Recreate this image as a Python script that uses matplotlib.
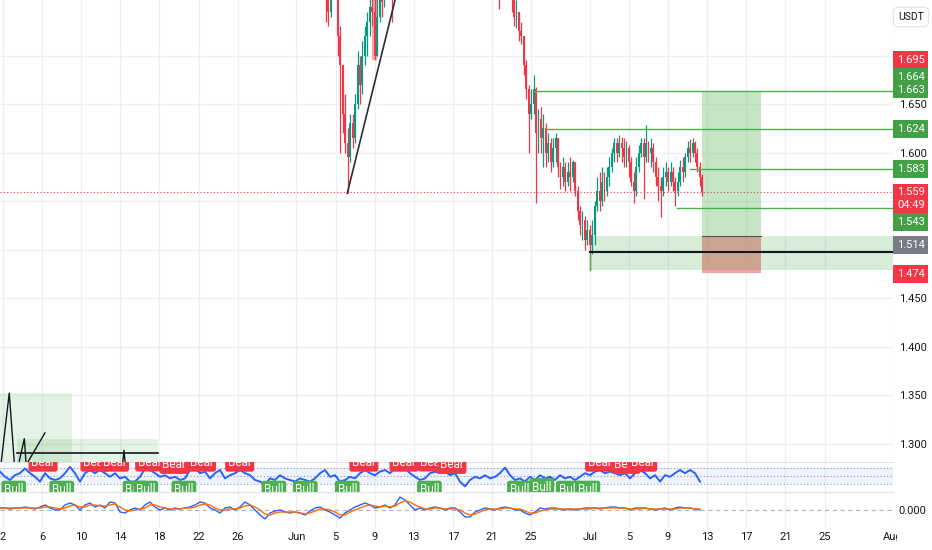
import matplotlib.pyplot as plt
import numpy as np
from matplotlib.patches import Rectangle

plt.rcParams['font.family'] = ['Roboto', 'DejaVu Sans']

UP = '#089981'
DOWN = '#f23645'
GREEN = '#4caf50'
GRID = '#eef0f4'
TXT = '#131722'

# ---------------- data ----------------
# day numbers counted from May 1 (= day 0)
tick_days = [1, 5, 9, 13, 17, 21, 25, 31, 35, 39, 43, 47, 51, 55, 61, 65, 69, 73, 77, 81, 85, 92]
tick_labels = ['2', '6', '10', '14', '18', '22', '26', 'Jun', '5', '9', '13', '17', '21', '25',
               'Jul', '5', '9', '13', '17', '21', '25', 'Aug']
price_ticks = [1.300, 1.350, 1.400, 1.450, 1.500, 1.550, 1.600, 1.650, 1.700]
price_tick_labels = ['1.300', '1.350', '1.400', '1.450', '1.500', '', '1.600', '1.650', '']

# 6h candles, block 1 (from Jun 3.75) and block 2 (from Jun 20.75)
c1_start = 33.75
c1_open0 = 1.800
c1_close = [1.790, 1.770, 1.745, 1.775, 1.790, 1.780, 1.720, 1.690, 1.640, 1.610, 1.595, 1.630,
            1.615, 1.650, 1.690, 1.670, 1.700, 1.720, 1.735, 1.750, 1.745, 1.700, 1.740, 1.760,
            1.755, 1.770, 1.780, 1.790, 1.765, 1.790, 1.810]
c1_high = [1.810, 1.790, 1.775, 1.790, 1.800, 1.800, 1.785, 1.730, 1.690, 1.660, 1.625, 1.640,
           1.640, 1.660, 1.705, 1.700, 1.715, 1.730, 1.745, 1.770, 1.770, 1.760, 1.760, 1.780,
           1.775, 1.790, 1.800, 1.810, 1.800, 1.810, 1.830]
c1_low = [1.770, 1.735, 1.730, 1.740, 1.770, 1.760, 1.700, 1.600, 1.620, 1.600, 1.558, 1.590,
          1.605, 1.610, 1.645, 1.650, 1.660, 1.690, 1.700, 1.720, 1.730, 1.695, 1.700, 1.735,
          1.740, 1.750, 1.760, 1.775, 1.735, 1.770, 1.790]

c2_start = 50.75
c2_open0 = 1.810
c2_close = [1.800, 1.790, 1.805, 1.785, 1.765, 1.780, 1.790, 1.785, 1.775, 1.760, 1.740, 1.745,
            1.725, 1.720, 1.690, 1.665, 1.640, 1.650, 1.665, 1.620, 1.635, 1.615, 1.625, 1.600,
            1.610, 1.590, 1.605, 1.615, 1.585, 1.575, 1.585, 1.570, 1.580, 1.575, 1.590, 1.560,
            1.540, 1.525, 1.530, 1.510, 1.520, 1.505, 1.515, 1.545, 1.560, 1.550, 1.570, 1.560,
            1.575, 1.585, 1.600, 1.610, 1.600, 1.610, 1.605, 1.595, 1.605, 1.590, 1.570, 1.560,
            1.585, 1.600, 1.610, 1.595, 1.610, 1.600, 1.605, 1.590, 1.575, 1.565, 1.560, 1.575,
            1.580, 1.570, 1.580, 1.570, 1.560, 1.570, 1.585, 1.580, 1.595, 1.605, 1.600, 1.610,
            1.600, 1.585, 1.575, 1.559]
c2_high = [1.815, 1.810, 1.820, 1.805, 1.790, 1.790, 1.800, 1.800, 1.790, 1.780, 1.765, 1.757,
           1.745, 1.735, 1.720, 1.695, 1.670, 1.665, 1.680, 1.668, 1.645, 1.647, 1.640, 1.630,
           1.620, 1.615, 1.615, 1.620, 1.615, 1.590, 1.595, 1.590, 1.590, 1.595, 1.592, 1.590,
           1.565, 1.545, 1.540, 1.535, 1.530, 1.525, 1.530, 1.550, 1.575, 1.580, 1.585, 1.580,
           1.585, 1.595, 1.605, 1.615, 1.615, 1.618, 1.616, 1.615, 1.612, 1.608, 1.595, 1.580,
           1.595, 1.608, 1.615, 1.615, 1.628, 1.612, 1.615, 1.610, 1.595, 1.585, 1.575, 1.585,
           1.590, 1.585, 1.590, 1.585, 1.575, 1.580, 1.592, 1.595, 1.600, 1.612, 1.614, 1.615,
           1.612, 1.605, 1.590, 1.578]
c2_low = [1.785, 1.775, 1.785, 1.770, 1.748, 1.760, 1.775, 1.770, 1.760, 1.745, 1.730, 1.728,
          1.715, 1.712, 1.680, 1.655, 1.600, 1.635, 1.640, 1.548, 1.600, 1.600, 1.585, 1.585,
          1.590, 1.580, 1.585, 1.590, 1.575, 1.562, 1.565, 1.560, 1.565, 1.560, 1.570, 1.555,
          1.530, 1.515, 1.510, 1.500, 1.505, 1.479, 1.495, 1.505, 1.540, 1.540, 1.545, 1.550,
          1.555, 1.565, 1.580, 1.590, 1.590, 1.595, 1.590, 1.585, 1.585, 1.575, 1.565, 1.548,
          1.555, 1.580, 1.595, 1.552, 1.590, 1.590, 1.585, 1.580, 1.565, 1.550, 1.534, 1.555,
          1.565, 1.560, 1.565, 1.560, 1.545, 1.555, 1.565, 1.570, 1.575, 1.590, 1.590, 1.595,
          1.590, 1.580, 1.565, 1.555]

# RSI and MACD, sampled every half day from May 1.7 to Jul 12.3
ind_first_day = 0.69
ind_last_day = 72.27
rsi_a = [61, 48, 40, 52, 57, 69, 57, 48, 36, 57, 44, 40, 44, 57, 73, 57, 36, 57, 65, 57,
         65, 57, 48, 57, 44, 48, 36, 36, 48, 69, 65, 57, 48, 52, 44, 48, 40, 44, 65, 69,
         57, 61, 44, 57, 65, 44, 52, 57, 65, 57, 52, 40, 36, 28, 44, 40, 52, 44, 40, 36,
         44, 40, 36, 44, 57, 65, 48, 52, 36, 40]
rsi_b = [48, 44, 57, 65, 57, 52, 61, 65, 57, 69, 65, 69, 57, 48, 40, 44, 57, 61, 57, 61,
         52, 57, 36, 24, 40, 48, 44, 52, 44, 48, 57, 71, 52, 40, 44, 36, 48, 40, 52, 44,
         48, 40, 52, 44, 48, 40, 48, 57, 52, 61, 65, 57, 61, 57, 52, 57, 44, 57, 65, 57,
         44, 52, 36, 52, 48, 57, 65, 57, 65, 57, 36]
macd_a = [0.002, 0.002, 0.001, 0.002, 0.002, 0.003, 0.002, 0.001, 0.003, 0.005,
          0.002, 0.000, 0.000, 0.005, 0.007, 0.005, 0.000, 0.005, 0.007, 0.003,
          0.005, 0.002, 0.008, 0.007, -0.002, -0.003, 0.000, 0.002, 0.000, 0.005,
          0.008, 0.003, 0.000, 0.002, 0.000, 0.002, 0.001, 0.002, 0.003, 0.005,
          0.008, 0.007, 0.002, 0.000, -0.003, 0.002, 0.003, 0.000, 0.003, 0.008,
          0.005, 0.000, -0.005, -0.009, -0.003, -0.001, 0.000, -0.002, -0.003, -0.002,
          -0.003, -0.005, -0.001, 0.002, 0.003, 0.000, -0.002, -0.005, -0.008, -0.003]
macd_b = [0.000, 0.003, 0.005, 0.007, 0.005, 0.002, 0.003, 0.005, 0.002, 0.005,
          0.013, 0.010, 0.005, 0.000, 0.002, 0.000, 0.002, 0.003, 0.002, 0.000,
          0.002, 0.002, -0.002, -0.007, -0.007, -0.002, 0.000, 0.002, 0.001, 0.000,
          0.002, 0.003, 0.002, 0.000, 0.000, -0.003, -0.005, -0.002, 0.002, 0.001,
          0.002, 0.002, 0.001, 0.000, 0.001, 0.000, 0.001, 0.002, 0.002, 0.002,
          0.001, 0.002, 0.003, 0.003, 0.002, 0.002, 0.000, 0.002, 0.002, 0.002,
          0.001, 0.000, 0.001, 0.002, 0.000, 0.002, 0.003, 0.002, 0.002, 0.001, 0.000]
signal_a = [0.002, 0.002, 0.002, 0.002, 0.002, 0.002, 0.002, 0.002, 0.002, 0.003,
            0.003, 0.002, 0.001, 0.002, 0.004, 0.005, 0.003, 0.003, 0.005, 0.005,
            0.004, 0.004, 0.005, 0.006, 0.003, 0.000, -0.001, 0.000, 0.001, 0.002,
            0.005, 0.005, 0.003, 0.002, 0.001, 0.001, 0.001, 0.002, 0.002, 0.003,
            0.005, 0.006, 0.005, 0.002, 0.000, 0.000, 0.001, 0.001, 0.002, 0.004,
            0.005, 0.003, 0.000, -0.004, -0.005, -0.003, -0.002, -0.002, -0.002, -0.002,
            -0.003, -0.004, -0.003, -0.001, 0.001, 0.001, 0.000, -0.002, -0.005, -0.005]
signal_b = [-0.002, 0.000, 0.002, 0.004, 0.005, 0.004, 0.003, 0.004, 0.003, 0.004,
            0.007, 0.009, 0.008, 0.005, 0.003, 0.001, 0.001, 0.002, 0.002, 0.001,
            0.001, 0.001, 0.000, -0.003, -0.005, -0.004, -0.002, 0.000, 0.001, 0.001,
            0.001, 0.002, 0.002, 0.001, 0.001, -0.001, -0.003, -0.003, -0.001, 0.000,
            0.001, 0.001, 0.001, 0.001, 0.001, 0.001, 0.001, 0.001, 0.001, 0.002,
            0.002, 0.002, 0.002, 0.002, 0.002, 0.002, 0.001, 0.001, 0.001, 0.002,
            0.001, 0.001, 0.001, 0.001, 0.001, 0.001, 0.002, 0.002, 0.002, 0.001, 0.001]

bear_days = [5.1, 10.4, 12.4, 16.0, 18.5, 21.3, 25.2, 37.9, 42.0, 44.9, 46.9, 62.0, 64.7, 66.4]
bear_levels = [83.5, 83.5, 83.5, 84, 78, 83.5, 83.5, 83.5, 83.5, 84, 78, 83.5, 78, 83.5]
bull_days = [2.1, 7.0, 14.5, 15.6, 19.5, 28.7, 31.9, 36.2, 44.6, 53.8, 56.1, 58.8, 60.8]
bull_levels = [15.5, 15.5, 15.5, 15.5, 15.5, 15.5, 15.5, 15.5, 15.5, 15.5, 22, 15.5, 15.5]

# drawings on the price pane
levels_green = [1.663, 1.624, 1.583, 1.543]
levels_green_from = [55.3, 56.4, 71.2, 69.9]
last_price = 1.559
support_level = 1.497
support_from = 61.0
zone_low, zone_high = 1.479, 1.514
trend_line = ([36.2, 41.5], [1.558, 1.774])
pos_start, pos_end = 72.5, 78.5
pos_target, pos_entry, pos_stop = 1.663, 1.514, 1.479
fvg_box = (38.7, 39.25, 1.695, 1.76)
old_box1 = (0.69, 8.05, 1.25, 1.352)
old_box2 = (2.4, 16.85, 1.25, 1.305)
old_line_level = 1.290
zig_days = [0.69, 1.64, 2.23, 2.40, 3.18, 3.42]
zig_prices = [1.27, 1.352, 1.27, 1.27, 1.305, 1.27]
diag_days = [2.91, 5.29]
diag_prices = [1.27, 1.311]
spike_days = [13.14, 13.37, 13.58]
spike_prices = [1.27, 1.293, 1.27]

tag_texts = ['1.695', '1.664\n1.663', '1.624', '1.583', '1.559\n04:49', '1.543', '1.514', '1.474']
tag_colors = ['#f23645', '#43a047', '#43a047', '#43a047', '#f23645', '#43a047', '#787b86', '#f23645']
tag_at = [1.6954, 1.6714, 1.6242, 1.5830, 1.5526, 1.5284, 1.5046, 1.4747]

# ---------------- figure ----------------
fig = plt.figure(figsize=(9.32, 5.5), dpi=100)
W = 893 / 932
ax = fig.add_axes([0, 88 / 550, W, 462 / 550])
ax_rsi = fig.add_axes([0, 58 / 550, W, 30 / 550], sharex=ax)
ax_macd = fig.add_axes([0, 22 / 550, W, 36 / 550], sharex=ax)

XMIN, XMAX = 0.693, 92.0
ax.set_xlim(XMIN, XMAX)
ax.set_ylim(1.28093, 1.75722)

for a in (ax, ax_rsi, ax_macd):
    for s in a.spines.values():
        s.set_visible(False)
    for d in tick_days:
        a.axvline(d, color=GRID, lw=1, zorder=0)
    a.tick_params(axis='x', length=0, labelbottom=False)
    a.set_yticks([])

for a in (ax_rsi, ax_macd):
    a.spines['top'].set_visible(True)
    a.spines['top'].set_color('#e0e3eb')

# price grid + right scale
ax.set_yticks(price_ticks)
ax.set_yticklabels(price_tick_labels)
ax.yaxis.tick_right()
ax.tick_params(axis='y', length=0, pad=4, labelsize=8, labelcolor=TXT)
for p in price_ticks:
    ax.axhline(p, color=GRID, lw=1, zorder=0)


def draw_candles(a, start, opn0, closes, highs, lows):
    t = start + 0.25 * np.arange(len(closes))
    c = np.array(closes)
    o = np.r_[opn0, c[:-1]]
    col = np.where(c >= o, UP, DOWN)
    a.vlines(t, lows, highs, colors=col, lw=0.9, zorder=3)
    a.bar(t, np.maximum(np.abs(c - o), 0.0015), bottom=np.minimum(o, c), width=0.19,
          color=col, lw=0, zorder=3)


draw_candles(ax, c1_start, c1_open0, c1_close, c1_high, c1_low)
draw_candles(ax, c2_start, c2_open0, c2_close, c2_high, c2_low)

# pink box inside the early June rally
ax.add_patch(Rectangle((fvg_box[0], fvg_box[2]), fvg_box[1] - fvg_box[0], fvg_box[3] - fvg_box[2],
                       fc='#f7a6ad', ec='none', zorder=2))

# trend line
ax.plot(trend_line[0], trend_line[1], color='#2a2e39', lw=1.2, zorder=4)

# last price line
ax.axhline(last_price, color='#f23645', lw=0.8, ls=(0, (1, 2)), zorder=2)

# horizontal green levels
for lv, st in zip(levels_green, levels_green_from):
    ax.plot([st, XMAX], [lv, lv], color=GREEN, lw=1, zorder=4)

# demand zone + black support
ax.add_patch(Rectangle((support_from, zone_low), XMAX - support_from, zone_high - zone_low,
                       fc='#4caf50', alpha=0.22, ec='none', zorder=1))
ax.plot([support_from, support_from], [zone_low, support_level], color='#4caf50', lw=1, zorder=4)
ax.plot([support_from, XMAX], [support_level, support_level], color='#131722', lw=1.5, zorder=4)

# long position tool
ax.add_patch(Rectangle((pos_start, pos_entry), pos_end - pos_start, pos_target - pos_entry,
                       fc='#4caf50', alpha=0.32, ec='none', zorder=2))
ax.add_patch(Rectangle((pos_start, pos_stop), pos_end - pos_start, pos_entry - pos_stop,
                       fc='#c98a78', alpha=0.75, ec='none', zorder=2))
ax.plot([pos_start, pos_end], [pos_entry, pos_entry], color='#555', lw=0.8, zorder=4)
ax.add_patch(Rectangle((pos_start, pos_stop - 0.0035), pos_end - pos_start, 0.003,
                       fc='#f7a1aa', ec='none', zorder=2))

# old drawings bottom-left
for b in (old_box1, old_box2):
    ax.add_patch(Rectangle((b[0], b[2]), b[1] - b[0], b[3] - b[2], fc='#4caf50', alpha=0.15,
                           ec='none', zorder=1))
ax.plot([old_box2[0], old_box2[1]], [old_line_level, old_line_level], color='#131722', lw=1.2)
ax.plot(zig_days, zig_prices, color='#131722', lw=1)
ax.plot(diag_days, diag_prices, color='#131722', lw=1)
ax.plot(spike_days, spike_prices, color='#131722', lw=1)

# price tags on the right scale
for txt, colr, y in zip(tag_texts, tag_colors, tag_at):
    ax.text(1.0045, y, txt, transform=ax.get_yaxis_transform(), ha='left', va='center',
            fontsize=8, color='white', linespacing=1.35, clip_on=False, zorder=10,
            bbox=dict(boxstyle='square,pad=0.32', fc=colr, ec='none'))

fig.text(0.9635, 1 - 17 / 550, 'USDT', ha='left', va='center', fontsize=7.5, color=TXT,
         bbox=dict(boxstyle='round,pad=0.45', fc='white', ec='#e0e3eb', lw=0.8))

# ---------------- RSI pane ----------------
ind_t = np.linspace(ind_first_day, ind_last_day, len(rsi_a) + len(rsi_b))
ax_rsi.set_ylim(10, 85)
ax_rsi.axhspan(30, 70, color='#2962ff', alpha=0.07, lw=0)
for lv in (70, 50, 30):
    ax_rsi.axhline(lv, color='#9598a1', lw=0.8, ls=(0, (1, 2)))
ax_rsi.plot(ind_t, rsi_a + rsi_b, color='#2962ff', lw=1.4, zorder=3)
for d, lv in zip(bear_days, bear_levels):
    ax_rsi.text(d, lv, 'Bear', ha='center', va='center', fontsize=8.5, color='white', zorder=5,
                clip_on=True, bbox=dict(boxstyle='round,pad=0.22', fc='#f23645', ec='none'))
for d, lv in zip(bull_days, bull_levels):
    ax_rsi.text(d, lv, 'Bull', ha='center', va='center', fontsize=8.5, color='white', zorder=5,
                clip_on=True, bbox=dict(boxstyle='round,pad=0.22', fc='#4caf50', ec='none'))

# ---------------- MACD pane ----------------
ax_macd.set_ylim(-0.018, 0.018)
ax_macd.axhline(0, color='#b2b5be', lw=0.8, ls=(0, (4, 3)))
ax_macd.plot(ind_t, macd_a + macd_b, color='#2962ff', lw=1, zorder=3)
ax_macd.plot(ind_t, signal_a + signal_b, color='#ff6d00', lw=1, zorder=3)
ax_macd.yaxis.tick_right()
ax_macd.set_yticks([0])
ax_macd.set_yticklabels(['0.000'])
ax_macd.tick_params(axis='y', length=0, pad=4, labelsize=8, labelcolor=TXT)

ax_macd.set_xticks(tick_days)
ax_macd.set_xticklabels(tick_labels)
ax_macd.tick_params(axis='x', length=0, pad=3, labelsize=8, labelcolor=TXT, labelbottom=True)

# price scale area covers the date labels past the chart edge
fig.patches.append(Rectangle((897 / 932, 0), 35 / 932, 22 / 550, transform=fig.transFigure,
                             fc='white', ec='none', zorder=5))

fig.savefig('out.png', dpi=100)
